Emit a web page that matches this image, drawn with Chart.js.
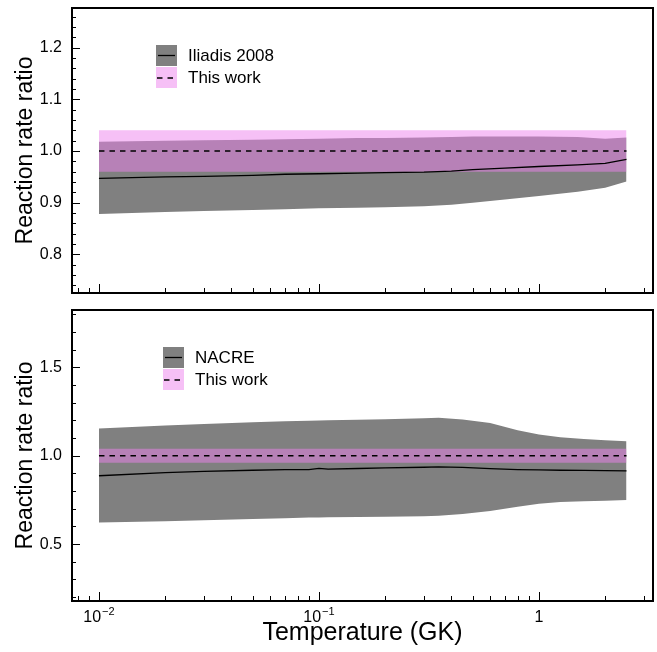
<!DOCTYPE html>
<html>
<head>
<meta charset="utf-8">
<script src="https://cdn.jsdelivr.net/npm/chart.js@4/dist/chart.umd.min.js"></script>
<style>
  body { margin: 0; background: #fff; }
  .panel { position: absolute; left: 0; }
</style>
</head>
<body>
<div class="panel" style="top:0"><canvas id="topChart" width="657" height="300"></canvas></div>
<div class="panel" style="top:300px"><canvas id="bottomChart" width="657" height="352"></canvas></div>
<script>
// temperatures in GK
const tempTop = [0.01, 0.02, 0.03, 0.05, 0.07, 0.1, 0.15, 0.2, 0.3, 0.4, 0.5, 0.7, 1.0, 1.5, 2.0, 2.5];
const iliadisMid = [0.947, 0.950, 0.951, 0.953, 0.955, 0.956, 0.957, 0.958, 0.959, 0.961, 0.964, 0.967, 0.970, 0.973, 0.976, 0.984];
const iliadisHigh = [1.018, 1.020, 1.021, 1.022, 1.023, 1.024, 1.025, 1.025, 1.026, 1.027, 1.028, 1.028, 1.028, 1.027, 1.024, 1.026];
const iliadisLow = [0.878, 0.882, 0.884, 0.886, 0.887, 0.889, 0.890, 0.891, 0.893, 0.896, 0.900, 0.906, 0.913, 0.921, 0.929, 0.941];

const tempBottom = [0.01, 0.02, 0.03, 0.05, 0.07, 0.09, 0.1, 0.11, 0.15, 0.2, 0.3, 0.35, 0.45, 0.6, 0.8, 1.0, 1.25, 1.6, 2.0, 2.5];
const nacreMid = [0.887, 0.905, 0.912, 0.918, 0.921, 0.922, 0.929, 0.924, 0.928, 0.931, 0.935, 0.937, 0.934, 0.927, 0.922, 0.920, 0.918, 0.917, 0.916, 0.915];
const nacreHigh = [1.155, 1.172, 1.180, 1.190, 1.195, 1.198, 1.200, 1.201, 1.204, 1.207, 1.212, 1.215, 1.205, 1.185, 1.145, 1.120, 1.105, 1.095, 1.088, 1.082];
const nacreLow = [0.623, 0.630, 0.635, 0.642, 0.647, 0.650, 0.651, 0.652, 0.654, 0.655, 0.657, 0.660, 0.670, 0.688, 0.712, 0.728, 0.738, 0.743, 0.746, 0.749];

// this work (normalised to itself)
const thisWorkT = [0.01, 2.5];
const thisWorkMid = [1.0, 1.0];
const thisWorkHigh = [1.04, 1.04];
const thisWorkLow = [0.96, 0.96];

const yTicksTop = [0.8, 0.9, 1.0, 1.1, 1.2];
const yTicksBottom = [0.5, 1.0, 1.5];
const xTicks = [0.01, 0.1, 1];
const xTickLabels = [["10", "\u22122"], ["10", "\u22121"], ["1", ""]];

const FONT = "'Liberation Sans', Arial, sans-serif";
const GRAY = "#808080";
const PINK = "rgba(238,130,238,0.5)";
const X_MIN = 0.007541, X_MAX = 3.299;

const pts = (xs, ys) => xs.map((x, i) => ({ x: x, y: ys[i] }));

// index 0 is drawn last (on top)
const makeDatasets = (temps, mid, high, low) => [
  { data: pts(temps, mid), borderColor: "#000", borderWidth: 1.3, pointRadius: 0, fill: false },
  { data: pts(thisWorkT, thisWorkMid), borderColor: "#000", borderWidth: 1.3, borderDash: [5.5, 5], pointRadius: 0, fill: false },
  { data: pts(thisWorkT, thisWorkHigh), borderWidth: 0, pointRadius: 0, backgroundColor: PINK, fill: "+1" },
  { data: pts(thisWorkT, thisWorkLow), borderWidth: 0, pointRadius: 0, fill: false },
  { data: pts(temps, high), borderWidth: 0, pointRadius: 0, backgroundColor: GRAY, fill: "+1" },
  { data: pts(temps, low), borderWidth: 0, pointRadius: 0, fill: false },
];

// inward ticks and box
const makeFrame = (minorStep, yTicks) => ({
  id: "frame",
  afterDraw(chart) {
    const { ctx, chartArea: a, scales: { x, y } } = chart;
    ctx.save();
    ctx.strokeStyle = "#000";
    ctx.lineWidth = 1;
    const seg = (x1, y1, x2, y2) => { ctx.beginPath(); ctx.moveTo(x1, y1); ctx.lineTo(x2, y2); ctx.stroke(); };
    for (let d = -3; d <= 1; d++) {
      for (let m = 1; m < 10; m++) {
        const v = m * Math.pow(10, d);
        if (v < x.min || v > x.max) continue;
        const px = Math.round(x.getPixelForValue(v)) + 0.5;
        seg(px, a.bottom, px, a.bottom - (m === 1 ? 9 : 5));
      }
    }
    const start = Math.ceil(y.min / minorStep - 1e-6);
    for (let k = start; k * minorStep <= y.max; k++) {
      const v = k * minorStep;
      const py = Math.round(y.getPixelForValue(v)) + 0.5;
      const major = yTicks.some(t => Math.abs(t - v) < 1e-6);
      seg(a.left, py, a.left + (major ? 8 : 4), py);
    }
    ctx.lineWidth = 2;
    ctx.strokeRect(a.left, a.top, a.right - a.left, a.bottom - a.top);
    ctx.restore();
  }
});

const makeLegend = (sx, sy, name, tx) => ({
  id: "bandLegend",
  afterDraw(chart) {
    const ctx = chart.ctx;
    ctx.save();
    ctx.fillStyle = GRAY;
    ctx.fillRect(sx, sy, 21, 21);
    ctx.fillStyle = PINK;
    ctx.fillRect(sx, sy + 22, 21, 21);
    ctx.strokeStyle = "#000";
    ctx.lineWidth = 1.3;
    ctx.beginPath(); ctx.moveTo(sx + 2, sy + 10.5); ctx.lineTo(sx + 19, sy + 10.5); ctx.stroke();
    ctx.setLineDash([5.5, 5]);
    ctx.beginPath(); ctx.moveTo(sx + 1, sy + 33); ctx.lineTo(sx + 20, sy + 33); ctx.stroke();
    ctx.setLineDash([]);
    ctx.fillStyle = "#000";
    ctx.font = "17px " + FONT;
    ctx.textBaseline = "middle";
    ctx.fillText(name, tx, sy + 11);
    ctx.fillText("This work", tx, sy + 33);
    ctx.restore();
  }
});

const xLabels = {
  id: "xLabels",
  afterDraw(chart) {
    const { ctx, chartArea: a, scales: { x } } = chart;
    ctx.save();
    ctx.fillStyle = "#000";
    ctx.textBaseline = "alphabetic";
    xTicks.forEach((v, i) => {
      const [base, exp] = xTickLabels[i];
      ctx.font = "16px " + FONT;
      const wb = ctx.measureText(base).width;
      ctx.font = "11px " + FONT;
      const we = exp ? ctx.measureText(exp).width + 1 : 0;
      const left = x.getPixelForValue(v) - (wb + we) / 2;
      ctx.font = "16px " + FONT;
      ctx.fillText(base, left, a.bottom + 21);
      if (exp) {
        ctx.font = "11px " + FONT;
        ctx.fillText(exp, left + wb + 1, a.bottom + 14);
      }
    });
    ctx.restore();
  }
};

const yAxis = (min, max, ticks) => ({
  min: min,
  max: max,
  afterBuildTicks: s => { s.ticks = ticks.map(v => ({ value: v })); },
  afterFit: s => { s.width = 72; s.paddingTop = 0; s.paddingBottom = 0; },
  grid: { display: false, drawTicks: false },
  border: { display: false },
  ticks: { font: { family: FONT, size: 16 }, color: "#000", padding: 10, callback: v => v.toFixed(1) },
  title: { display: true, text: "Reaction rate ratio", color: "#000", font: { family: FONT, size: 23 }, padding: { top: 12, bottom: 0 } }
});

new Chart(document.getElementById("topChart"), {
  type: "line",
  data: { datasets: makeDatasets(tempTop, iliadisMid, iliadisHigh, iliadisLow) },
  options: {
    responsive: false,
    animation: false,
    layout: { padding: { top: 8, right: 4, bottom: 7, left: 0 } },
    plugins: { legend: { display: false }, tooltip: { enabled: false } },
    scales: {
      x: { type: "logarithmic", min: X_MIN, max: X_MAX, display: false },
      y: yAxis(0.725, 1.277, yTicksTop)
    }
  },
  plugins: [makeFrame(0.02, yTicksTop), makeLegend(156, 45, "Iliadis 2008", 188)]
});

new Chart(document.getElementById("bottomChart"), {
  type: "line",
  data: { datasets: makeDatasets(tempBottom, nacreMid, nacreHigh, nacreLow) },
  options: {
    responsive: false,
    animation: false,
    layout: { padding: { top: 10, right: 4, bottom: 2, left: 0 } },
    plugins: { legend: { display: false }, tooltip: { enabled: false } },
    scales: {
      x: {
        type: "logarithmic",
        min: X_MIN,
        max: X_MAX,
        afterBuildTicks: s => { s.ticks = xTicks.map(v => ({ value: v })); },
        afterFit: s => { s.height = 49; s.paddingLeft = 0; s.paddingRight = 0; },
        grid: { display: false, drawTicks: false },
        border: { display: false },
        ticks: { display: false },
        title: { display: true, text: "Temperature (GK)", color: "#000", font: { family: FONT, size: 25 }, padding: { top: 0, bottom: 2 } }
      },
      y: yAxis(0.178, 1.825, yTicksBottom)
    }
  },
  plugins: [makeFrame(0.1, yTicksBottom), makeLegend(163, 47, "NACRE", 195), xLabels]
});
</script>
</body>
</html>
